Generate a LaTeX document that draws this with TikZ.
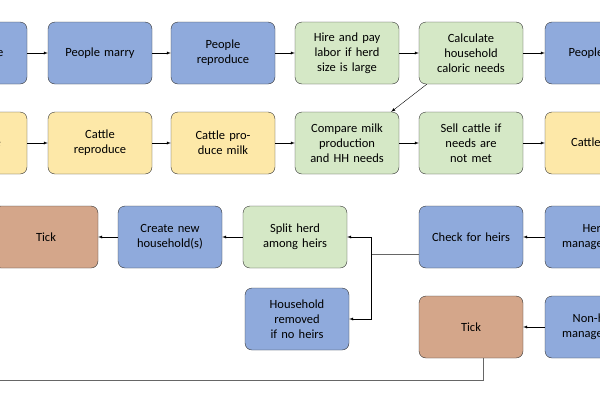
\documentclass[tikz,border=0pt]{standalone}
\usepackage{fontspec}
\setmainfont{Carlito}
\usetikzlibrary{positioning, calc}
\definecolor{pblue}{HTML}{8FAADC}
\definecolor{pgreen}{HTML}{D5E8C6}
\definecolor{pyellow}{HTML}{FDE8A8}
\definecolor{pbrown}{HTML}{D4A68A}

\begin{document}
\begin{tikzpicture}[x=1pt, y=-1pt,
    box/.style = {draw=black!80, rounded corners=7pt, minimum width=104pt, minimum height=62pt,
                  text width=90pt, align=center, font=\fontsize{12.5}{15}\selectfont},
    people/.style = {box, fill=pblue},
    rule/.style = {box, fill=pgreen},
    cattle/.style = {box, fill=pyellow},
    tick/.style = {box, fill=pbrown},
    arr/.style = {-latex, thin},
    link/.style = {draw=black!60, thin}]
      \useasboundingbox (0,0) rectangle (600,400);
      \clip (0,0) rectangle (600,400);
      % people row
      \node [people] (age) at (-25, 53) {People age};
      \node [people] (marry) at (100, 53) {People marry};
      \node [people] (repro) at (223, 53) {People\\reproduce};
      \node [rule] (hire) at (347, 53) {Hire and pay labor if herd size is large};
      \node [rule] (calc) at (471, 53) {Calculate household caloric needs};
      \node [people] (pnext) at (597, 53) {People age};
      % cattle row
      \node [cattle] (cage) at (-25, 143) {Cattle age};
      \node [cattle] (crepro) at (100, 143) {Cattle\\reproduce};
      \node [cattle] (milk) at (223, 143) {Cattle produce milk};
      \node [rule] (comp) at (347, 143) {Compare milk production and HH needs};
      \node [rule] (sell) at (471, 143) {Sell cattle if needs are not met};
      \node [cattle] (cnext) at (597, 143) {Cattle age};
      \foreach \a/\b in {age/marry, marry/repro, repro/hire, hire/calc, calc/pnext,
                         cage/crepro, crepro/milk, milk/comp, comp/sell, sell/cnext}
               {
                 \draw [arr] (\a) -- (\b);
               }
      \draw [arr] ($(calc.south west)+(8,0)$) -- ($(comp.north east)+(-8,0)$);
      % inheritance
      \node [tick] (tick1) at (46, 237) {Tick};
      \node [people] (newhh) at (170, 237) {Create new household(s)};
      \node [rule] (split) at (295, 237) {Split herd among heirs};
      \node [people] (heirs) at (471, 237) {Check for heirs};
      \node [people] (hdies) at (597, 237) {Herd-manager dies};
      \node [people] (removed) at (297, 319) {Household removed if no heirs};
      \node [tick] (tick2) at (471, 327) {Tick};
      \node [people] (ndies) at (597, 327) {Non-herd manager dies};
      \draw [arr] (hdies) -- (heirs);
      \draw [arr] (ndies) -- (tick2);
      \draw [arr] (split) -- (newhh);
      \draw [arr] (newhh) -- (tick1);
      \coordinate (fork) at (371, 254);
      \draw [link] (heirs.west |- fork) -- (fork);
      \draw [arr] (fork) |- (split.east);
      \draw [arr] (fork) |- (removed.east);
      \coordinate (loop) at (483, 380);
      \draw [link] (tick2.south -| loop) -- (loop) -- (0, 380);
\end{tikzpicture}
\end{document}
